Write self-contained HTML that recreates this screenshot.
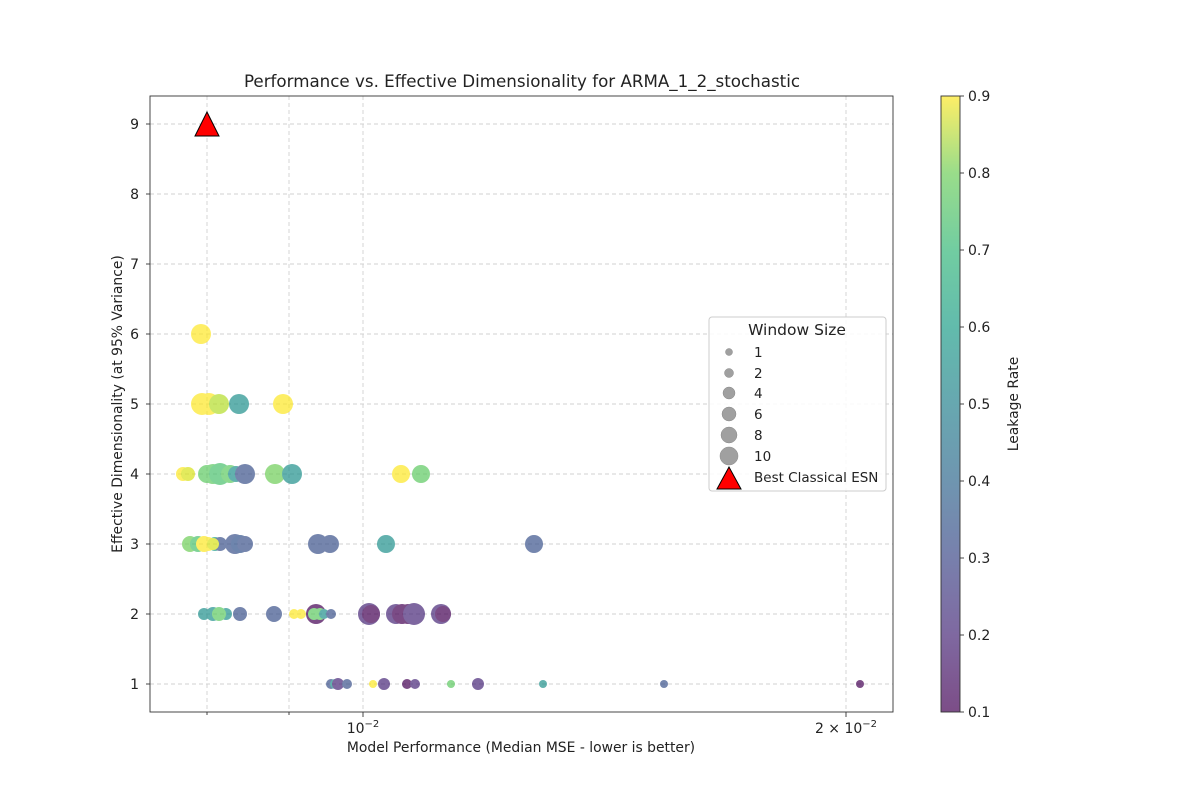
<!DOCTYPE html>
<html><head><meta charset="utf-8"><style>body{margin:0;background:#fff}svg{display:block}</style></head><body>
<svg width="1200" height="800" xmlns="http://www.w3.org/2000/svg" font-family="DejaVu Sans, Liberation Sans, sans-serif">
<defs>
<linearGradient id="vir" x1="0" y1="1" x2="0" y2="0">
<stop offset="0" stop-color="#440154"/><stop offset="0.125" stop-color="#482878"/><stop offset="0.25" stop-color="#3e4989"/><stop offset="0.375" stop-color="#31688e"/><stop offset="0.5" stop-color="#26828e"/><stop offset="0.625" stop-color="#1f9e89"/><stop offset="0.75" stop-color="#35b779"/><stop offset="0.875" stop-color="#6ece58"/><stop offset="1" stop-color="#fde725"/>
</linearGradient>
</defs>
<rect width="1200" height="800" fill="#fff"/>
<g stroke="#d0d0d0" stroke-dasharray="4,3" stroke-width="0.9">
<line x1="150" x2="893" y1="124" y2="124"/><line x1="150" x2="893" y1="194" y2="194"/><line x1="150" x2="893" y1="264" y2="264"/><line x1="150" x2="893" y1="334" y2="334"/><line x1="150" x2="893" y1="404" y2="404"/><line x1="150" x2="893" y1="474" y2="474"/><line x1="150" x2="893" y1="544" y2="544"/><line x1="150" x2="893" y1="614" y2="614"/><line x1="150" x2="893" y1="684" y2="684"/>
<line x1="207" x2="207" y1="96" y2="712"/><line x1="289" x2="289" y1="96" y2="712"/><line x1="363" x2="363" y1="96" y2="712"/><line x1="846" x2="846" y1="96" y2="712"/>
</g>
<g opacity="0.7" stroke-width="0.8">
<circle cx="201" cy="334" r="10" fill="#fde725"/>
<circle cx="202" cy="404" r="11" fill="#fde725"/><circle cx="209" cy="404" r="11" fill="#fde725"/><circle cx="219" cy="404" r="10" fill="#b5de2b"/><circle cx="239" cy="404" r="10" fill="#21918c"/><circle cx="283" cy="404" r="10" fill="#fde725"/>
<circle cx="183" cy="474" r="7" fill="#fde725"/><circle cx="188" cy="474" r="7" fill="#d8e219"/><circle cx="207" cy="474" r="9" fill="#5ec962"/><circle cx="213" cy="474" r="10" fill="#5ec962"/><circle cx="220" cy="474" r="11" fill="#4ac16d"/><circle cx="230" cy="474" r="9" fill="#5ec962"/><circle cx="236" cy="474" r="8" fill="#21918c"/><circle cx="245" cy="474" r="10" fill="#3b528b"/><circle cx="275" cy="474" r="10" fill="#6ece58"/><circle cx="292" cy="474" r="10" fill="#21918c"/><circle cx="401" cy="474" r="9" fill="#fde725"/><circle cx="421" cy="474" r="9" fill="#5ec962"/>
<circle cx="190" cy="544" r="8" fill="#6ece58"/><circle cx="198" cy="544" r="8" fill="#4ac16d"/><circle cx="215" cy="544" r="7" fill="#1f9e89"/><circle cx="220" cy="544" r="7" fill="#3b528b"/><circle cx="204" cy="544" r="8" fill="#fde725"/><circle cx="208" cy="544" r="7" fill="#fde725"/><circle cx="213" cy="544" r="6" fill="#d8e219"/><circle cx="235" cy="544" r="10" fill="#3b528b"/><circle cx="240" cy="544" r="9" fill="#31528b"/><circle cx="245" cy="544" r="8" fill="#3b528b"/><circle cx="318" cy="544" r="10" fill="#3b528b"/><circle cx="330" cy="544" r="9" fill="#3b528b"/><circle cx="386" cy="544" r="9" fill="#21918c"/><circle cx="534" cy="544" r="9" fill="#3b528b"/>
<circle cx="204" cy="614" r="6" fill="#21918c"/><circle cx="213" cy="614" r="7" fill="#21918c"/><circle cx="226" cy="614" r="6" fill="#21918c"/><circle cx="219" cy="614" r="7" fill="#5ec962"/><circle cx="240" cy="614" r="7" fill="#3b528b"/><circle cx="274" cy="614" r="8" fill="#3b528b"/><circle cx="294" cy="614" r="5" fill="#fde725"/><circle cx="301" cy="614" r="5" fill="#fde725"/><circle cx="316" cy="614" r="10" fill="#440154"/><circle cx="314" cy="614" r="6" fill="#5ec962"/><circle cx="320" cy="614" r="6" fill="#5ec962"/><circle cx="324" cy="614" r="5" fill="#21918c"/><circle cx="331" cy="614" r="5" fill="#3b528b"/>
<circle cx="369" cy="614" r="11" fill="#482878"/><circle cx="371" cy="614" r="9" fill="#440154"/><circle cx="396" cy="614" r="10" fill="#482878"/><circle cx="402" cy="614" r="10" fill="#440154"/><circle cx="408" cy="614" r="10" fill="#440154"/><circle cx="414" cy="614" r="11" fill="#482878"/><circle cx="441" cy="614" r="10" fill="#482878"/><circle cx="443" cy="614" r="8" fill="#440154"/>
<circle cx="331" cy="684" r="5" fill="#3b528b"/><circle cx="335" cy="684" r="5" fill="#21918c"/><circle cx="338" cy="684" r="6" fill="#482878"/><circle cx="347" cy="684" r="5" fill="#3b528b"/><circle cx="373" cy="684" r="4" fill="#fde725"/><circle cx="384" cy="684" r="6" fill="#482878"/><circle cx="407" cy="684" r="5" fill="#440154"/><circle cx="415" cy="684" r="5" fill="#482878"/><circle cx="451" cy="684" r="4" fill="#5ec962"/><circle cx="478" cy="684" r="6" fill="#482878"/><circle cx="543" cy="684" r="4" fill="#21918c"/><circle cx="664" cy="684" r="4" fill="#3b528b"/><circle cx="860" cy="684" r="4" fill="#440154"/>
</g>
<polygon points="207,112 195,136 219,136" fill="#ff0000" stroke="#000" stroke-width="1"/>
<rect x="150" y="96" width="743" height="616" fill="none" stroke="#333" stroke-width="0.9"/>
<g stroke="#333" stroke-width="0.9">
<line x1="150" x2="146" y1="124" y2="124"/><line x1="150" x2="146" y1="194" y2="194"/><line x1="150" x2="146" y1="264" y2="264"/><line x1="150" x2="146" y1="334" y2="334"/><line x1="150" x2="146" y1="404" y2="404"/><line x1="150" x2="146" y1="474" y2="474"/><line x1="150" x2="146" y1="544" y2="544"/><line x1="150" x2="146" y1="614" y2="614"/><line x1="150" x2="146" y1="684" y2="684"/>
<line x1="363" x2="363" y1="712" y2="717"/><line x1="846" x2="846" y1="712" y2="717"/><line x1="207" x2="207" y1="712" y2="715"/><line x1="289" x2="289" y1="712" y2="715"/>
</g>
<g font-size="14" fill="#222" text-anchor="end">
<text x="139" y="129">9</text><text x="139" y="199">8</text><text x="139" y="269">7</text><text x="139" y="339">6</text><text x="139" y="409">5</text><text x="139" y="479">4</text><text x="139" y="549">3</text><text x="139" y="619">2</text><text x="139" y="689">1</text>
</g>
<text x="363" y="733" font-size="14" fill="#222" text-anchor="middle">10<tspan dy="-6" font-size="10">−2</tspan></text>
<text x="846" y="733" font-size="14" fill="#222" text-anchor="middle">2 × 10<tspan dy="-6" font-size="10">−2</tspan></text>
<text x="521" y="752" font-size="13.9" fill="#222" text-anchor="middle">Model Performance (Median MSE - lower is better)</text>
<text x="122" y="404" font-size="13.9" fill="#222" text-anchor="middle" transform="rotate(-90 122 404)">Effective Dimensionality (at 95% Variance)</text>
<text x="522" y="87" font-size="16.7" fill="#222" text-anchor="middle">Performance vs. Effective Dimensionality for ARMA_1_2_stochastic</text>
<rect x="709" y="317" width="177" height="174" rx="3" fill="#fff" fill-opacity="0.85" stroke="#ccc"/>
<text x="797" y="335" font-size="15.5" fill="#222" text-anchor="middle">Window Size</text>
<g fill="#a0a0a0" stroke="#888" stroke-width="0.5">
<circle cx="729" cy="352" r="3.5"/><circle cx="729" cy="373" r="4.5"/><circle cx="729" cy="393" r="6"/><circle cx="729" cy="414" r="7"/><circle cx="729" cy="435" r="8"/><circle cx="729" cy="456" r="9"/>
</g>
<polygon points="729,467 717,489 741,489" fill="#ff0000" stroke="#000" stroke-width="1"/>
<g font-size="13.5" fill="#222">
<text x="754" y="357">1</text><text x="754" y="378">2</text><text x="754" y="398">4</text><text x="754" y="419">6</text><text x="754" y="440">8</text><text x="754" y="461">10</text><text x="754" y="482">Best Classical ESN</text>
</g>
<rect x="941" y="96" width="19" height="616" fill="url(#vir)" opacity="0.7"/>
<rect x="941" y="96" width="19" height="616" fill="none" stroke="#333" stroke-width="0.9"/>
<g stroke="#333" stroke-width="0.9">
<line x1="960" x2="964" y1="96" y2="96"/><line x1="960" x2="964" y1="173" y2="173"/><line x1="960" x2="964" y1="250" y2="250"/><line x1="960" x2="964" y1="327" y2="327"/><line x1="960" x2="964" y1="404" y2="404"/><line x1="960" x2="964" y1="481" y2="481"/><line x1="960" x2="964" y1="558" y2="558"/><line x1="960" x2="964" y1="635" y2="635"/><line x1="960" x2="964" y1="712" y2="712"/>
</g>
<g font-size="14" fill="#222">
<text x="968" y="101">0.9</text><text x="968" y="178">0.8</text><text x="968" y="255">0.7</text><text x="968" y="332">0.6</text><text x="968" y="409">0.5</text><text x="968" y="486">0.4</text><text x="968" y="563">0.3</text><text x="968" y="640">0.2</text><text x="968" y="717">0.1</text>
</g>
<text x="1018" y="404" font-size="13.9" fill="#222" text-anchor="middle" transform="rotate(-90 1018 404)">Leakage Rate</text>
</svg>
</body></html>
